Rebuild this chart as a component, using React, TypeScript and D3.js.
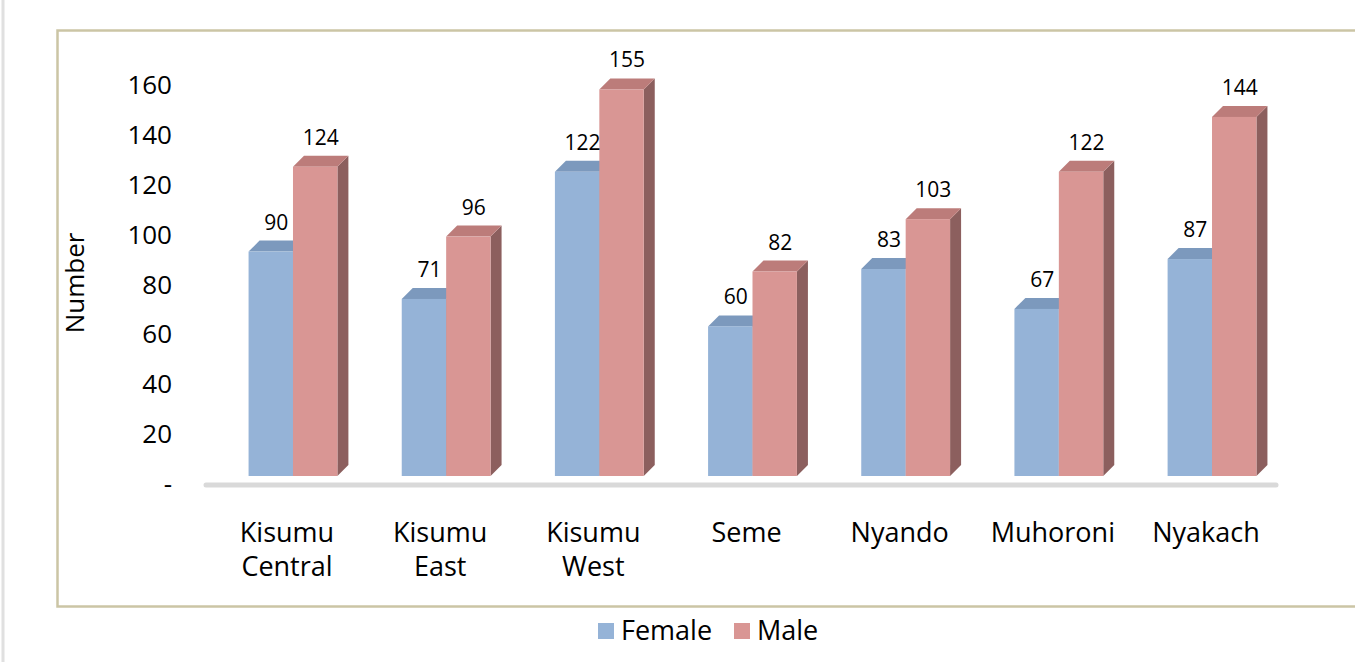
import React from "react";
import * as d3 from "d3";

const subCounties = ["Kisumu Central", "Kisumu East", "Kisumu West", "Seme", "Nyando", "Muhoroni", "Nyakach"];
const female = [90, 71, 122, 60, 83, 67, 87];
const male = [124, 96, 155, 82, 103, 122, 144];
const yTicks = [0, 20, 40, 60, 80, 100, 120, 140, 160];

const W = 1355;
const H = 662;
const FONT = "'Open Sans', 'DejaVu Sans', sans-serif";

const series = [
  { name: "Female", values: female, front: "#95b3d7", top: "#7c99bd", side: "#6f88a8" },
  { name: "Male", values: male, front: "#d99694", top: "#bc7c7a", side: "#8c5f5e" },
];

export default function App() {
  // axis scale (tick labels) and 3D depth offset
  const y = d3.scaleLinear().domain([0, 160]).range([484, 85]);
  const depthX = 11;
  const depthY = -11;
  const frontShift = -8; // front face sits below the back wall baseline

  const x = d3.scaleBand().domain(subCounties).range([216.4, 1288.6]).paddingInner(0.42).paddingOuter(0.21);
  const inner = d3.scaleBand().domain(series.map((s) => s.name)).range([0, x.bandwidth()]);

  const bars = series.flatMap((s) =>
    s.values.map((v, i) => {
      const x0 = (x(subCounties[i]) as number) + (inner(s.name) as number);
      const x1 = x0 + inner.bandwidth();
      const yb = y(0) + frontShift;
      const yt = y(v) + frontShift;
      return { s, v, i, x0, x1, yb, yt };
    })
  );

  const pts = (arr: number[][]) => arr.map((p) => p.join(",")).join(" ");

  return (
    <div style={{ position: "fixed", left: 0, top: 0 }}>
      <svg width={W} height={H} style={{ display: "block", background: "#fff" }} fontFamily={FONT}>
        <line x1={3} x2={3} y1={0} y2={H} stroke="#e0e0e0" strokeWidth={3} />
        <rect x={57.5} y={30.5} width={1400} height={576} fill="none" stroke="#cbc5a5" strokeWidth={2.5} />

        {/* y axis labels */}
        {yTicks.map((t) => (
          <text key={t} x={172} y={y(t)} dy="0.35em" textAnchor="end" fontSize={26} fill="#000">
            {t === 0 ? "-" : t}
          </text>
        ))}
        <text transform={`translate(84,${283}) rotate(-90)`} textAnchor="middle" fontSize={26} fill="#000">
          Number
        </text>

        {/* floor */}
        <line x1={206} x2={1276} y1={485} y2={485} stroke="#d9d9d9" strokeWidth={5} strokeLinecap="round" />

        {/* 3D bars: female first, then male on top */}
        {subCounties.map((_, i) =>
          bars
            .filter((b) => b.i === i)
            .map((b) => (
              <g key={b.s.name + i}>
                <polygon
                  points={pts([[b.x1, b.yb], [b.x1 + depthX, b.yb + depthY], [b.x1 + depthX, b.yt + depthY], [b.x1, b.yt]])}
                  fill={b.s.side}
                />
                <polygon
                  points={pts([[b.x0, b.yt], [b.x0 + depthX, b.yt + depthY], [b.x1 + depthX, b.yt + depthY], [b.x1, b.yt]])}
                  fill={b.s.top}
                />
                <rect x={b.x0} y={b.yt} width={b.x1 - b.x0} height={b.yb - b.yt} fill={b.s.front} />
              </g>
            ))
        )}

        {/* value labels */}
        {bars.map((b) => (
          <text
            key={"l" + b.s.name + b.i}
            x={(b.x0 + b.x1) / 2 + depthX / 2}
            y={b.yt + depthY - 11}
            textAnchor="middle"
            fontSize={21}
            fill="#000"
          >
            {b.v}
          </text>
        ))}

        {/* category labels */}
        {subCounties.map((c) => {
          const words = c.split(" ");
          const cx = (x(c) as number) + x.bandwidth() / 2 - 6;
          return (
            <text key={c} x={cx} y={542} textAnchor="middle" fontSize={27} fill="#000">
              {words.map((w, k) => (
                <tspan key={k} x={cx} dy={k === 0 ? 0 : 34}>
                  {w}
                </tspan>
              ))}
            </text>
          );
        })}

        {/* legend */}
        <rect x={598} y={623} width={16} height={16} fill={series[0].front} />
        <text x={621} y={631} dy="0.35em" fontSize={27} fill="#000">Female</text>
        <rect x={734} y={623} width={16} height={16} fill={series[1].front} />
        <text x={757} y={631} dy="0.35em" fontSize={27} fill="#000">Male</text>
      </svg>
    </div>
  );
}
